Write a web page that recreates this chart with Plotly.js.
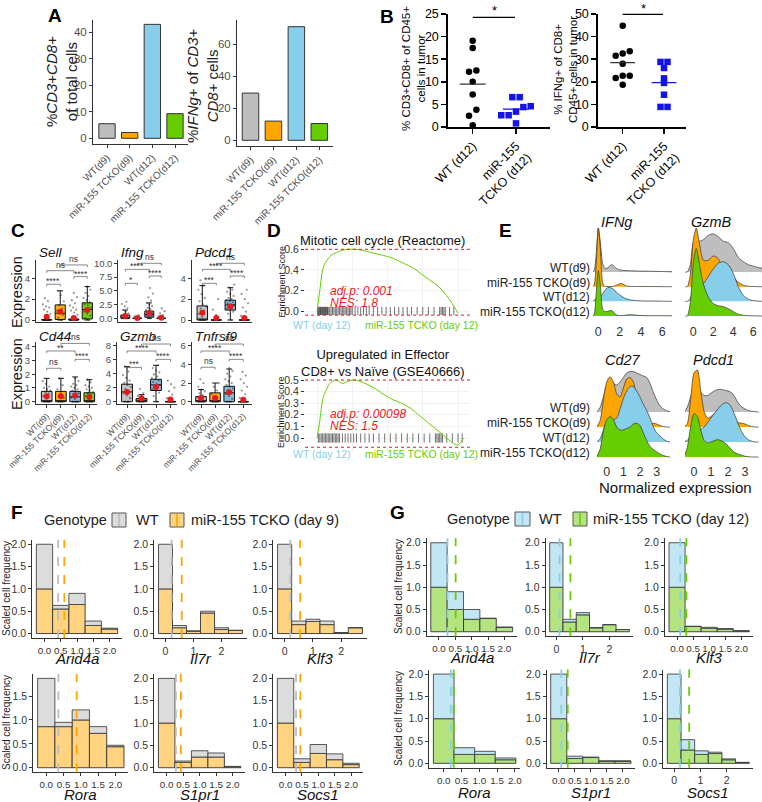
<!DOCTYPE html>
<html>
<head>
<meta charset="utf-8">
<script src="https://cdn.plot.ly/plotly-3.0.1.min.js"></script>
<style>
body{margin:0;background:#fff;}
#fig{width:762px;height:802px;}
</style>
</head>
<body>
<div id="fig"></div>
<script>
// ---------- data ----------
const groups = ['WT(d9)', 'miR-155 TCKO(d9)', 'WT(d12)', 'miR-155 TCKO(d12)'];
const groupColors = ['#bebebe', '#ffa500', '#87ceeb', '#66cd00'];

// A
const aCd8Pct = [5.5, 2.2, 43, 9.3];
const aIfngPct = [29.5, 12, 71, 10.5];

// B
const bLabels = ['WT (d12)', 'miR-155<br>TCKO (d12)'];
const bWtCd8 = [19.1, 17.5, 12.2, 12.5, 10.0, 7.2, 3.8, 2.5, 0.4];
const bKoCd8 = [6.6, 6.6, 4.4, 4.6, 3.4, 2.6, 2.6, 0.8];
const bWtIfng = [44.8, 33.5, 32.5, 31.5, 28.0, 22.7, 22.7, 21.7, 18.7];
const bKoIfng = [28.8, 28.8, 26.1, 21.5, 19.5, 14.3, 8.9, 8.9];

// C  (box stats per gene, 4 groups each)
const cGenes = ['Sell', 'Ifng', 'Pdcd1', 'Cd44', 'Gzmb', 'Tnfrsf9'];
const cQ1 = [[0,0.05,0,0.1],[0,0,0.2,0],[0,0,0.95,0],[0,0,0,0],[0,0,1.6,0],[0,0,0,0]];
const cMed = [[0,0.65,0,1.0],[0,0,0.7,0],[0,0,1.45,0],[0,0,0.35,0],[1.4,0.2,2.4,0],[0,0,0.95,0]];
const cQ3 = [[0.05,1.45,0.1,1.65],[0.6,0,1.3,0],[1.35,0,1.9,0],[0.75,0.75,0.75,0.65],[2.5,0.45,3.2,0],[0.55,0.95,1.65,0]];
const cHi = [[0.12,2.8,0.25,3.2],[1.5,0,2.8,0],[3.3,0,3.1,0],[1.7,1.7,1.8,1.6],[5.0,1.0,5.2,0],[1.3,2.0,3.5,0]];
const cMean = [[0.3,0.8,0.2,0.95],[0.4,0.05,0.9,0.1],[0.7,0.2,1.3,0.2],[0.4,0.4,0.45,0.35],[1.4,0.5,2.1,0.3],[0.4,0.4,1.0,0.2]];
const cSig = [['****','****','ns','ns'],['*','****','****','ns'],['***','****','****','ns'],['ns','****','**','ns'],['***','****','****','ns'],['ns','****','****','ns']];
const cSigY = [[3.43,4.16,4.73,5.28],[6.36,7.7,8.9,10.0],[3.52,4.22,4.86,5.44],[2.43,3.08,3.69,4.24],[4.9,6.05,7.24,8.24],[3.69,4.54,5.43,6.18]];
const cSigPairs = [[1,2],[3,4],[1,3],[2,4]];
const cCells = [
  [[0,0,0,0,0,0,0.4,0.6,0.8,1.0,1.2,1.3,1.5,1.8,2.1],[0,0.2,0.5,0.7,0.9,1.1,1.4,1.8,2.4,2.8],[0,0,0,0,0,0,0.3,0.5,0.7,0.9,1.0,1.2,1.4,1.6,1.9,2.2,2.6],[0,0.2,0.4,0.6,0.8,1.0,1.1,1.2,1.4,1.5,1.7,1.9,2.1,2.3,2.6,2.9,3.2]],
  [[0,0,0,0,0.3,0.5,0.7,0.9,1.2,1.5,1.8,2.2,2.6,3.0],[0,0,0,0,0.3,0.6],[0,0.2,0.4,0.5,0.6,0.7,0.8,0.9,1.0,1.1,1.2,1.3,1.5,1.7,1.9,2.2,2.5,2.8,3.2,3.8,4.5,5.5],[0,0,0,0,0.3,0.6,0.9,1.3,1.8]],
  [[0,0,0,0.3,0.6,0.9,1.1,1.3,1.5,1.8,2.1,2.5,2.9,3.3,3.8],[0,0,0,0.5,1.0,2.0],[0,0.6,0.8,1.0,1.1,1.2,1.3,1.4,1.5,1.6,1.7,1.8,1.9,2.0,2.1,2.3,2.5,2.7,2.9,3.1,3.4],[0,0,0,0,0.4,0.8,1.2,1.6,2.0,2.5,2.9]],
  [[0,0,0,0.2,0.4,0.6,0.7,0.8,0.9,1.0,1.1,1.3,1.5],[0,0,0.3,0.6,0.9,1.2,1.7],[0,0,0,0.2,0.3,0.4,0.5,0.6,0.7,0.8,0.9,1.0,1.1,1.2,1.3,1.5,1.7],[0,0,0,0.2,0.4,0.5,0.6,0.7,0.8,0.9,1.0,1.1,1.2,1.4,1.6]],
  [[0,0,0.5,0.9,1.2,1.5,1.8,2.1,2.4,2.7,3.0,3.4,3.8,4.3,5.0],[0,0,0.2,0.4,0.8,1.2,1.8],[0,0.8,1.3,1.6,1.8,2.0,2.2,2.4,2.6,2.8,3.0,3.2,3.4,3.6,3.9,4.2,4.5,4.8,5.2],[0,0,0,0,0.5,1.0,1.5,2.0,2.5,3.0]],
  [[0,0,0,0.3,0.5,0.7,0.9,1.1,1.3,1.6,2.0,2.4],[0,0,0,0.4,0.8,1.2,1.6,2.0],[0,0,0.3,0.6,0.8,1.0,1.2,1.4,1.6,1.8,2.0,2.2,2.4,2.7,3.0,3.3,3.6],[0,0,0,0,0.4,0.8,1.2,1.6,2.0,2.4,2.8,3.2]]
];

// D  (running enrichment score vs rank %, and hit ranks)
const d1Rank = [0,2,4,6,8,10,14,18,22,27,32,38,44,50,56,62,68,74,80,86,92,96,100];
const d1ES = [0,0.2,0.4,0.47,0.51,0.54,0.57,0.59,0.6,0.6,0.59,0.57,0.55,0.53,0.5,0.46,0.42,0.36,0.3,0.24,0.15,0.07,-0.02];
const d1Hits = [0.5,1,1.5,2,2.5,3,3.5,4,4.5,5,5.5,6,6.5,7,7.5,8,9,10,11,12,13,14,15,16,17,18,19,20,21,22,23,24,25,27,29,31,33,35,37,40,43,46,49,52,55,58,61,64,67,71,75,79,83,87,88,89,90,91,94,97];
const d2Rank = [0,2,4,6,8,10,14,18,22,26,30,36,42,48,54,60,66,72,78,84,90,96,100,104];
const d2ES = [0,0.15,0.33,0.4,0.45,0.48,0.5,0.47,0.49,0.5,0.49,0.46,0.42,0.37,0.33,0.3,0.26,0.2,0.14,0.08,0.02,-0.04,-0.06,0];
const d2Hits = [1,2,3,4,5,6,7,8,9,10,11,12,13,14,15,16,18,20,22,24,26,28,31,34,37,40,44,48,52,56,60,64,68,72,76,80,84,85,86,87,88,89,92,96,100,103];

// E  (ridge densities, in units of ridge spacing)
const eGridIfng = [-0.6,-0.4,-0.2,0,0.2,0.4,0.6,0.8,1,1.2,1.4,1.6,1.8,2,2.2,2.4,2.6,3,3.5,4,5,6,7];
const eIfng = [
  [0,0.1,1.2,3.0,2.0,0.6,0.25,0.25,0.35,0.5,0.45,0.3,0.2,0.15,0.12,0.1,0.1,0.08,0.07,0.06,0.05,0.03,0.02],
  [0,0.1,1.5,4.0,2.5,0.3,0.02,0.01,0.01,0.01,0.02,0.06,0.14,0.2,0.22,0.14,0.05,0.02,0.01,0.01,0.01,0,0],
  [0,0.05,0.2,0.4,0.3,0.5,0.75,0.9,0.95,0.92,0.85,0.7,0.55,0.45,0.35,0.25,0.18,0.1,0.05,0.03,0.02,0.01,0],
  [0,0.1,1.5,3.1,2.0,0.5,0.3,0.3,0.35,0.38,0.3,0.12,0.05,0.03,0.03,0.04,0.06,0.09,0.06,0.03,0.02,0.02,0.01]
];
const eGridGzmb = [-0.8,-0.6,-0.3,0,0.3,0.6,1,1.5,2,2.5,3,3.5,4,4.5,5,5.5,6,6.5,7];
const eGzmb = [
  [0,0,0.5,2.0,2.2,2.1,2.2,2.5,2.6,2.4,2.1,2.0,1.6,1.0,0.7,0.5,0.4,0.3,0.25],
  [0,0,0.8,3.2,4.0,3.0,1.8,1.8,2.1,1.9,1.0,0.7,0.65,0.3,0.1,0.03,0.01,0,0],
  [0,0,0.2,0.8,1.0,1.0,1.2,1.7,2.2,2.6,2.7,2.5,1.9,1.0,0.4,0.15,0.05,0.02,0],
  [0,0,0.9,3.6,4.6,3.6,2.2,1.3,0.85,0.7,0.65,0.5,0.3,0.12,0.05,0.02,0.01,0,0]
];
const eGridLow = [-0.6,-0.4,-0.2,0,0.2,0.4,0.6,0.8,1,1.2,1.4,1.6,1.8,2,2.2,2.4,2.6,2.8,3,3.2,3.4,3.6,3.8];
const eCd27 = [
  [0,0.3,1.0,1.8,2.0,1.9,1.8,2.0,2.3,2.6,2.7,2.7,2.6,2.5,2.4,2.3,1.9,1.3,0.8,0.4,0.2,0.08,0.02],
  [0,0.4,1.8,3.0,3.35,3.0,2.2,2.0,2.6,3.2,3.3,3.0,2.0,1.0,0.5,0.3,0.25,0.25,0.2,0.1,0.03,0,0],
  [0,0.2,0.8,1.4,1.6,1.5,1.6,2.2,2.9,3.4,3.7,3.7,3.4,3.0,2.5,2.1,1.6,1.0,0.6,0.4,0.2,0.05,0],
  [0,0.5,1.7,2.5,2.7,2.5,2.0,1.8,1.8,1.9,2.0,2.2,2.25,2.1,1.6,1.1,0.7,0.5,0.35,0.2,0.1,0.03,0]
];
const ePdcd1 = [
  [0,0.3,1.0,1.6,1.6,1.3,1.1,1.1,1.25,1.4,1.5,1.5,1.45,1.4,1.3,1.0,0.6,0.35,0.2,0.1,0.05,0.02,0],
  [0,0.2,1.8,3.6,3.8,2.4,1.0,0.6,0.7,0.9,1.0,1.0,1.0,0.9,0.7,0.5,0.3,0.25,0.2,0.1,0.03,0,0],
  [0,0.1,0.4,0.7,0.8,0.85,1.0,1.3,1.6,1.9,2.2,2.45,2.6,2.6,2.3,1.8,1.2,0.7,0.35,0.15,0.05,0,0],
  [0,0.6,2.0,2.9,2.7,1.8,1.1,0.95,1.0,1.1,1.15,1.1,0.95,0.75,0.5,0.3,0.2,0.12,0.05,0.02,0,0,0]
];

// F / G  (scaled cell frequency per bin; WT stacked on top of TCKO)
const fgGenes = ['Arid4a', 'Il7r', 'Klf3', 'Rora', 'S1pr1', 'Socs1'];
const fBins = [[0,0.5,1,1.5,2],[0,0.5,1,1.5,2,2.5],[0,0.5,1,1.5,2,2.5],[0,0.5,1,1.5,2],[0,0.5,1,1.5,2],[0,0.5,1,1.5,2]];
const fKo = [[1.0,0.55,0.65,0.18,0.1],[1.0,0.13,0.05,0.46,0.09,0.07],[1.0,0.2,0.27,0.2,0.02,0.13],[0.86,0.86,1.0,0.72,0.44],[1.0,0.12,0.24,0.24,0.02],[1.0,0.12,0.32,0.18,0.07]];
const fWt = [[1.0,0.08,0.25,0.1,0.02],[1.0,0.05,0.01,0.04,0.04,0],[1.0,0.08,0.05,0.08,0,0],[1.01,0.09,0.21,0.14,0.03],[1.0,0.03,0.14,0.09,0.01],[1.0,0.08,0.2,0.13,0.03]];
const fWtMean = [0.42, 0.22, 0.2, 0.35, 0.28, 0.32];
const fKoMean = [0.61, 0.58, 0.55, 0.88, 0.43, 0.45];
const gBins = [[0,0.5,1,1.5,2],[0,0.5,1,1.5,2,2.5],[0,0.5,1,1.5,2],[0,0.58,1.16,1.74],[0,0.5,1,1.5,2],[0,0.52,1.04,1.56,2.08,2.6]];
const gKo = [[1.0,0.5,0.28,0.3,0.1],[1.0,0.22,0.38,0.09,0.16,0.05],[1.0,0.12,0.08,0.06,0.02],[1.0,0.2,0.2,0.08],[1.0,0.11,0.13,0.05,0.05],[1.0,0.3,0.2,0.22,0.08,0.02]];
const gWt = [[1.0,0.4,0.22,0,0],[1.0,0.06,0.05,0,0,0],[1.0,0,0.02,0.01,0],[1.0,0.15,0.07,0.04],[1.0,0.05,0.01,0,0],[1.0,0.23,0.08,0.03,0.02,0]];
const gWtMean = [0.26, 0.12, 0.1, 0.2, 0.08, 0.22];
const gKoMean = [0.51, 0.53, 0.29, 0.28, 0.28, 0.57];

// ---------- helpers ----------
const W = 762, H = 802;
const FONT = '"Liberation Sans", Arial, sans-serif';
function xd(a, b){ return [a/W, b/W]; }
function yd(t, b){ return [1 - b/H, 1 - t/H]; }
// value range for pixels p0..p1 given two calibration points
function cal(p0, p1, c0, v0, c1, v1){
    var s = (v1 - v0)/(c1 - c0);
    return [v0 + (p0 - c0)*s, v0 + (p1 - c0)*s];
}

let traces = [];
let layout = {
    width: W, height: H,
    margin: {l: 0, r: 0, t: 0, b: 0},
    showlegend: false,
    barmode: 'overlay',
    paper_bgcolor: '#ffffff',
    plot_bgcolor: 'rgba(0,0,0,0)',
    font: {family: FONT, size: 11, color: '#222'},
    shapes: [],
    annotations: [],
};
let nAx = 0;
function newAxes(xo, yo){
    nAx++;
    var s = nAx === 1 ? '' : String(nAx);
    var base = {
        showgrid: false, zeroline: false, showline: true,
        linecolor: '#333', linewidth: 1,
        ticks: 'outside', ticklen: 3, tickcolor: '#333',
        tickfont: {family: FONT, size: 10.5, color: '#4d4d4d'},
        fixedrange: true,
    };
    layout['xaxis' + s] = Object.assign({}, base, {anchor: 'y' + s}, xo);
    layout['yaxis' + s] = Object.assign({}, base, {anchor: 'x' + s}, yo);
    return {x: 'x' + s, y: 'y' + s};
}
function txt(px, py, text, o){
    var a = {xref: 'paper', yref: 'paper', x: px/W, y: 1 - py/H, text: text,
        xanchor: 'center', yanchor: 'middle',
        showarrow: false, font: {family: FONT, size: 12, color: '#222'}};
    layout.annotations.push(Object.assign(a, o || {}));
}
function paperRect(x0, y0, x1, y1, fill, line){
    layout.shapes.push({type: 'rect', xref: 'paper', yref: 'paper',
        x0: x0/W, x1: x1/W, y0: 1 - y1/H, y1: 1 - y0/H,
        fillcolor: fill, line: {color: line, width: 1}});
}
function paperLine(x0, y0, x1, y1, color, width, dash){
    layout.shapes.push({type: 'line', xref: 'paper', yref: 'paper',
        x0: x0/W, x1: x1/W, y0: 1 - y0/H, y1: 1 - y1/H,
        line: {color: color, width: width, dash: dash || 'solid'}});
}
function mean(a){ return a.reduce((s, v) => s + v, 0)/a.length; }

// panel letters
[['A',55,16],['B',387,17],['C',18,230],['D',274,230],['E',505,230],['F',17,512],['G',397,512]].forEach(function(p){
    txt(p[1], p[2], '<b>' + p[0] + '</b>', {font: {family: FONT, size: 19, color: '#000'}});
});

// ---------- A ----------
function barPanel(vals, px, py, cx, cy, tv){
    var ax = newAxes({
        domain: xd(px[0], px[1]), range: cal(px[0], px[1], cx[0], 0, cx[1], 3),
        tickvals: [0,1,2,3], ticktext: groups, tickangle: -45,
        tickfont: {family: FONT, size: 10, color: '#4d4d4d'},
    }, {
        domain: yd(py[0], py[1]), range: cal(py[1], py[0], cy[0], 0, cy[1], cy[2]),
        tickvals: tv, tickfont: {family: FONT, size: 11.5, color: '#4d4d4d'},
    });
    traces.push({type: 'bar', x: [0,1,2,3], y: vals, width: 0.72,
        marker: {color: groupColors, line: {color: '#333', width: 1}},
        xaxis: ax.x, yaxis: ax.y, hoverinfo: 'none'});
}
barPanel(aCd8Pct, [93,188], [20,144], [107,175], [138.3,32.3,40], [0,10,20,30,40]);
barPanel(aIfngPct, [237,333], [20,146], [250.5,319.3], [140.3,44.3,60], [0,20,40,60]);
txt(62, 82, '%<i>CD3</i>+<i>CD8</i>+<br>of total cells', {textangle: -90, font: {family: FONT, size: 15, color: '#222'}});
txt(203, 86, '%<i>IFNg</i>+ of <i>CD3</i>+<br><i>CD8</i>+ cells', {textangle: -90, font: {family: FONT, size: 15, color: '#222'}});

// ---------- B ----------
// simple beeswarm: points closer than thr in value get spread sideways
function swarm(vals, thr, d){
    var idx = vals.map((v, i) => i).sort((a, b) => vals[a] - vals[b]);
    var off = new Array(vals.length).fill(0);
    var grp = [idx[0]];
    function flush(){
        grp.forEach(function(k, j){ off[k] = (j - (grp.length - 1)/2)*d; });
    }
    for (var i = 1; i < idx.length; ++i){
        if (vals[idx[i]] - vals[idx[i-1]] < thr) grp.push(idx[i]);
        else { flush(); grp = [idx[i]]; }
    }
    flush();
    return off;
}
function dotPanel(wt, ko, px, cx, ymax, dt, thr, sigY, starY){
    var bAxis = {linecolor: '#000', linewidth: 2, tickcolor: '#000', ticklen: 5, tickwidth: 1.5,
        tickfont: {family: FONT, size: 12.5, color: '#000'}};
    var ax = newAxes(Object.assign({}, bAxis, {
        domain: xd(px[0], px[1]), range: cal(px[0], px[1], cx[0], 1, cx[1], 2),
        tickvals: [1, 2], ticktext: bLabels, tickangle: -45,
    }), Object.assign({}, bAxis, {
        domain: yd(14, 127), range: [0, ymax], dtick: dt,
    }));
    var ow = swarm(wt, thr, 0.17), ok = swarm(ko, thr, 0.17);
    traces.push({type: 'scatter', mode: 'markers', x: wt.map((v, i) => 1 + ow[i]), y: wt,
        marker: {color: '#000', size: 6.5, symbol: 'circle'}, cliponaxis: false,
        xaxis: ax.x, yaxis: ax.y, hoverinfo: 'none'});
    traces.push({type: 'scatter', mode: 'markers', x: ko.map((v, i) => 2 + ok[i]), y: ko,
        marker: {color: '#1414e6', size: 6.5, symbol: 'square'}, cliponaxis: false,
        xaxis: ax.x, yaxis: ax.y, hoverinfo: 'none'});
    [[1, mean(wt), '#333'], [2, mean(ko), '#1414e6']].forEach(function(m){
        layout.shapes.push({type: 'line', xref: ax.x, yref: ax.y, x0: m[0] - 0.3, x1: m[0] + 0.3,
            y0: m[1], y1: m[1], line: {color: m[2], width: 1.3}});
    });
    paperLine(cx[0], sigY, cx[1] - 1, sigY, '#000', 1.2);
    txt((cx[0] + cx[1])/2, starY, '*', {font: {family: FONT, size: 13, color: '#000'}});
}
dotPanel(bWtCd8, bKoCd8, [448.3,550], [472.7,516], 25, 5, 1.6, 17.3, 11);
dotPanel(bWtIfng, bKoIfng, [598.3,686], [622.7,664], 50, 10, 1.05, 14.3, 8);
txt(413, 69, '% CD3+CD8+ of CD45+<br>cells in tumor', {textangle: -90, font: {family: FONT, size: 11.5, color: '#000'}});
txt(565, 70, '% IFNg+ of CD8+<br>CD45+ cells in tumor', {textangle: -90, font: {family: FONT, size: 11.5, color: '#000'}});

// ---------- C ----------
const cPos = [
    {x: [36,97], c: [46.7,87.3], y: [260,322], cy: [320,0,278.3,4], tv: [0,2,4]},
    {x: [118.3,166.7], c: [125.3,161.3], y: [260,322], cy: [318.3,0,263.3,10], tv: [0,2.5,5,7.5,10]},
    {x: [191.7,251.7], c: [202.3,244.3], y: [260,322], cy: [320,0,278.3,4], tv: [0,2,4]},
    {x: [36,96.7], c: [46.7,89.3], y: [342,404], cy: [401.7,0,346.7,4], tv: [0,1,2,3,4]},
    {x: [117,176.7], c: [127,170.5], y: [342,404], cy: [401.7,0,345.7,8], tv: [0,2,4,6,8]},
    {x: [191.7,251.7], c: [201,243.3], y: [342,404], cy: [401.7,0,345.7,6], tv: [0,2,4,6]},
];
const boxFill = ['rgba(190,190,190,0.9)', 'rgba(255,165,0,0.9)', 'rgba(120,180,215,0.9)', 'rgba(102,205,0,0.9)'];
cGenes.forEach(function(gene, gi){
    var p = cPos[gi];
    var bottom = gi >= 3;
    var ax = newAxes({
        domain: xd(p.x[0], p.x[1]), range: cal(p.x[0], p.x[1], p.c[0], 1, p.c[1], 4),
        tickvals: [1,2,3,4], ticktext: groups, tickangle: -45, showticklabels: bottom,
        ticks: bottom ? 'outside' : '', tickfont: {family: FONT, size: 8.5, color: '#4d4d4d'},
    }, {
        domain: yd(p.y[0], p.y[1]), range: cal(p.y[1], p.y[0], p.cy[0], p.cy[1], p.cy[2], p.cy[3]),
        tickvals: p.tv, tickformat: gi === 1 ? '.1f' : '', tickfont: {family: FONT, size: 9.5, color: '#4d4d4d'},
    });
    for (var k = 0; k < 4; ++k){
        traces.push({type: 'box', x: [k + 1], q1: [cQ1[gi][k]], median: [cMed[gi][k]], q3: [cQ3[gi][k]],
            lowerfence: [0], upperfence: [cHi[gi][k]], width: 0.75, whiskerwidth: 0.55,
            fillcolor: boxFill[k], line: {color: '#111', width: 1}, boxpoints: false,
            xaxis: ax.x, yaxis: ax.y, hoverinfo: 'none'});
    }
    // cells, spread sideways by a fixed low-discrepancy offset
    var cx = [], cy = [];
    cCells[gi].forEach(function(vals, k){
        vals.forEach(function(v, j){
            cx.push(k + 1 + ((((j + 1)*0.618034) % 1) - 0.5)*0.6);
            cy.push(v);
        });
    });
    traces.push({type: 'scatter', mode: 'markers', x: cx, y: cy,
        marker: {color: 'rgba(20,20,20,0.45)', size: 2.2}, xaxis: ax.x, yaxis: ax.y, hoverinfo: 'none'});
    traces.push({type: 'scatter', mode: 'markers', x: [1,2,3,4], y: cMean[gi],
        marker: {color: '#e8191f', size: 6}, xaxis: ax.x, yaxis: ax.y, hoverinfo: 'none'});
    var r = layout['yaxis' + (nAx === 1 ? '' : nAx)].range;
    var tick = (r[1] - r[0])*0.035;
    cSigPairs.forEach(function(pr, j){
        var yv = cSigY[gi][j];
        layout.shapes.push({type: 'path', xref: ax.x, yref: ax.y,
            path: 'M' + pr[0] + ',' + (yv - tick) + ' L' + pr[0] + ',' + yv + ' L' + pr[1] + ',' + yv + ' L' + pr[1] + ',' + (yv - tick),
            line: {color: '#555', width: 0.7}});
        layout.annotations.push({xref: ax.x, yref: ax.y, x: (pr[0] + pr[1])/2, y: yv, text: cSig[gi][j],
            showarrow: false, xanchor: 'center', yanchor: 'bottom', yshift: cSig[gi][j] === 'ns' ? -1 : -4,
            font: {family: FONT, size: 8.5, color: '#333'}});
    });
    txt(p.x[0] + 1, bottom ? 336 : 253, '<i>' + gene + '</i>', {xanchor: 'left', font: {family: FONT, size: 13.5, color: '#111'}});
});
txt(17, 292, 'Expression', {textangle: -90, font: {family: FONT, size: 14.5, color: '#111'}});
txt(17, 374, 'Expression', {textangle: -90, font: {family: FONT, size: 14.5, color: '#111'}});

// ---------- D ----------
function gseaPanel(rank, es, hits, py, cy, tv, title, titleY, statP, statN, statY, labY){
    var ax = newAxes({
        domain: xd(305, 470), range: cal(305, 470, 317, 0, 458, 100),
        showline: false, ticks: '', showticklabels: false,
        showgrid: true, gridcolor: '#ebebeb', gridwidth: 0.7, tickvals: [0,25,50,75,100],
    }, {
        domain: yd(py[0], py[1]), range: cal(py[1], py[0], cy[0], 0, cy[1], cy[2]),
        showline: false, showgrid: true, gridcolor: '#ebebeb', gridwidth: 0.7,
        tickvals: tv, tickformat: '.1f', tickfont: {family: FONT, size: 10.5, color: '#333'},
    });
    var rx = [], ry = [];
    hits.forEach(function(h){ rx.push(h, h, null); ry.push(-0.04, 0.04, null); });
    traces.push({type: 'scatter', mode: 'lines', x: rx, y: ry, line: {color: 'rgba(0,0,0,0.55)', width: 1},
        xaxis: ax.x, yaxis: ax.y, hoverinfo: 'none'});
    traces.push({type: 'scatter', mode: 'lines', x: rank, y: es, line: {color: '#66cd00', width: 1, shape: 'spline'},
        xaxis: ax.x, yaxis: ax.y, hoverinfo: 'none'});
    [Math.max.apply(null, es), Math.min.apply(null, es) - 0.02].forEach(function(v){
        layout.shapes.push({type: 'line', xref: ax.x + ' domain', yref: ax.y, x0: 0, x1: 1, y0: v, y1: v,
            line: {color: '#e8191f', width: 1, dash: 'dot'}});
    });
    txt(383, titleY, title, {font: {family: FONT, size: 13, color: '#111'}});
    txt(328, statY, '<i>adj.p: ' + statP + '</i>', {xanchor: 'left', font: {family: FONT, size: 12, color: '#e8191f'}});
    txt(328, statY + 12, '<i>NES: ' + statN + '</i>', {xanchor: 'left', font: {family: FONT, size: 12, color: '#e8191f'}});
    txt(291, labY, 'WT (day 12)', {xanchor: 'left', font: {family: FONT, size: 10.5, color: '#87ceeb'}});
    txt(363, labY, 'miR-155 TCKO (day 12)', {xanchor: 'left', font: {family: FONT, size: 10.5, color: '#66cd00'}});
    txt(281, (py[0] + py[1])/2, 'Enrichment Score', {textangle: -90, font: {family: FONT, size: 9, color: '#222'}});
}
gseaPanel(d1Rank, d1ES, d1Hits, [245,318], [311,249.3,0.6], [0,0.2,0.4,0.6],
    'Mitotic cell cycle (Reactome)', 240, '0.001', '1.8', 291, 325);
gseaPanel(d2Rank, d2ES, d2Hits, [372,452], [438,380,0.5], [0,0.1,0.2,0.3,0.4,0.5],
    'Upregulated in Effector<br>CD8+ vs Naïve (GSE40666)', 363, '0.00098', '1.5', 414, 454);

// ---------- E ----------
function ridgePanel(grid, dens, px, cx, xv, py, cy, tv, title, withLabels){
    var ax = newAxes({
        domain: xd(px[0], px[1]), range: cal(px[0], px[1], cx[0], 0, cx[1], xv),
        showline: false, ticks: '', tickvals: tv, tickfont: {family: FONT, size: 12.5, color: '#333'},
    }, {
        domain: yd(py[0], py[1]), range: cal(py[1], py[0], cy[0], 0, cy[1], 3),
        showline: false, ticks: '', showticklabels: false,
    });
    dens.forEach(function(d, g){
        var base = 3 - g;
        var top = d.map(v => base + v);
        traces.push({type: 'scatter', mode: 'lines', x: grid.concat(grid.slice().reverse()),
            y: top.concat(grid.map(() => base)), fill: 'toself', fillcolor: groupColors[g],
            line: {width: 0, shape: 'spline', smoothing: 0.7}, xaxis: ax.x, yaxis: ax.y, hoverinfo: 'none'});
        traces.push({type: 'scatter', mode: 'lines', x: grid, y: top,
            line: {color: '#333', width: 0.7, shape: 'spline', smoothing: 0.7}, xaxis: ax.x, yaxis: ax.y, hoverinfo: 'none'});
        if (withLabels){
            layout.annotations.push({xref: 'paper', yref: ax.y, x: 592/W, y: base, yshift: 4,
                xanchor: 'right', yanchor: 'middle', text: groups[g], showarrow: false,
                font: {family: FONT, size: 12, color: '#222'}});
        }
    });
    txt(px[0] + 6, py[0] - 2, '<i>' + title + '</i>', {xanchor: 'left', font: {family: FONT, size: 14.5, color: '#111'}});
}
ridgePanel(eGridIfng, eIfng, [593,672], [598.3,662.3], 6, [224,322], [316,272], [0,2,4,6], 'IFNg', true);
ridgePanel(eGridGzmb, eGzmb, [683,762], [693.3,753.3], 6, [224,322], [316,272], [0,2,4,6], 'GzmB', false);
ridgePanel(eGridLow, eCd27, [597,675], [606.7,656.7], 3, [362,462], [457,412], [0,1,2,3], 'Cd27', true);
ridgePanel(eGridLow, ePdcd1, [685,762], [694,745], 3, [362,462], [457,412], [0,1,2,3], 'Pdcd1', false);
txt(675, 487, 'Normalized expression', {font: {family: FONT, size: 15, color: '#111'}});

// ---------- F / G ----------
function histPanel(bins, ko, wt, mWt, mKo, px, py, cols, gene, labY){
    var w = bins[1] - bins[0];
    var span = bins[bins.length - 1] - bins[0] + w;
    var lo = bins[0] - w/2 - 0.05*span, hi = bins[bins.length - 1] + w/2 + 0.05*span;
    var tot = ko.map((v, i) => v + wt[i]);
    var mx = Math.max.apply(null, tot);
    var wide = span > 2.9;
    var xt = wide ? [0,1,2] : (hi < 1.9 ? [0,0.5,1,1.5] : [0,0.5,1,1.5,2]);
    var ax = newAxes({
        domain: xd(px[0], px[1]), range: [lo, hi], tickvals: xt, tickangle: 0,
        ticktext: xt.map(v => wide ? String(v) : v.toFixed(1)),
        tickfont: {family: FONT, size: wide ? 10.5 : 9.8, color: '#333'},
    }, {
        domain: yd(py[0], py[1]), range: [-0.05*mx, 1.05*mx],
        tickvals: [0,0.5,1,1.5,2], tickformat: '.1f', tickfont: {family: FONT, size: 10.5, color: '#333'},
    });
    traces.push({type: 'bar', x: bins, y: ko, width: w, marker: {color: cols[1], line: {color: '#333', width: 0.9}},
        xaxis: ax.x, yaxis: ax.y, hoverinfo: 'none'});
    traces.push({type: 'bar', x: bins, y: wt, base: ko, width: w, marker: {color: cols[0], line: {color: '#444', width: 0.9}},
        xaxis: ax.x, yaxis: ax.y, hoverinfo: 'none'});
    [[mWt, cols[2]], [mKo, cols[3]]].forEach(function(m){
        layout.shapes.push({type: 'line', xref: ax.x, yref: ax.y + ' domain', x0: m[0], x1: m[0], y0: 0, y1: 1,
            line: {color: m[1], width: 1.8, dash: 'dash'}});
    });
    txt((px[0] + px[1])/2, labY, '<i>' + gene + '</i>', {font: {family: FONT, size: 15, color: '#111'}});
}
const fCols = ['#dcdcdc', '#ffd37f', '#bdbdbd', '#ffa500'];
const gCols = ['#c3e6f5', '#b3e480', '#87ceeb', '#66cd00'];
const fPx = [[32.3,121.7],[154.3,246.7],[273.3,366.7],[33.3,128.3],[154.3,245],[273.3,363.3]];
const gPx = [[426.7,516.7],[545.7,633.3],[665,753.3],[429.3,520],[546.7,635],[663.3,753.3]];
fgGenes.forEach(function(gene, i){
    var row2 = i >= 3;
    histPanel(fBins[i], fKo[i], fWt[i], fWtMean[i], fKoMean[i], fPx[i],
        row2 ? [673.9,772.2] : [539.8,638], fCols, gene, row2 ? 794 : 658);
    histPanel(gBins[i], gKo[i], gWt[i], gWtMean[i], gKoMean[i], gPx[i],
        row2 ? [669.6,767.8] : [538.3,636.2], gCols, gene, row2 ? 792 : 657);
});
[[6,589],[6,723],[398,587],[398,719]].forEach(function(p){
    txt(p[0], p[1], 'Scaled cell frequency', {textangle: -90, font: {family: FONT, size: 10, color: '#222'}});
});
// legends
txt(75, 520, 'Genotype', {font: {family: FONT, size: 14.5, color: '#222'}});
paperRect(112, 513, 126, 527, '#dcdcdc', '#555');
paperLine(119, 514, 119, 526, '#bdbdbd', 1.6);
txt(134, 520, 'WT', {xanchor: 'left', font: {family: FONT, size: 14.5, color: '#222'}});
paperRect(170, 513, 184, 527, '#ffd37f', '#555');
paperLine(177, 514, 177, 526, '#ffa500', 1.6);
txt(189, 520, 'miR-155 TCKO (day 9)', {xanchor: 'left', font: {family: FONT, size: 14.5, color: '#222'}});
txt(479, 519, 'Genotype', {font: {family: FONT, size: 14.5, color: '#222'}});
paperRect(515, 512, 530, 526, '#c3e6f5', '#555');
paperLine(522.5, 513, 522.5, 525, '#87ceeb', 1.6);
txt(537, 519, 'WT', {xanchor: 'left', font: {family: FONT, size: 14.5, color: '#222'}});
paperRect(573, 512, 587, 526, '#b3e480', '#555');
paperLine(580, 513, 580, 525, '#66cd00', 1.6);
txt(591, 519, 'miR-155 TCKO (day 12)', {xanchor: 'left', font: {family: FONT, size: 14.5, color: '#222'}});

Plotly.newPlot('fig', traces, layout, {staticPlot: true});
</script>
</body>
</html>
